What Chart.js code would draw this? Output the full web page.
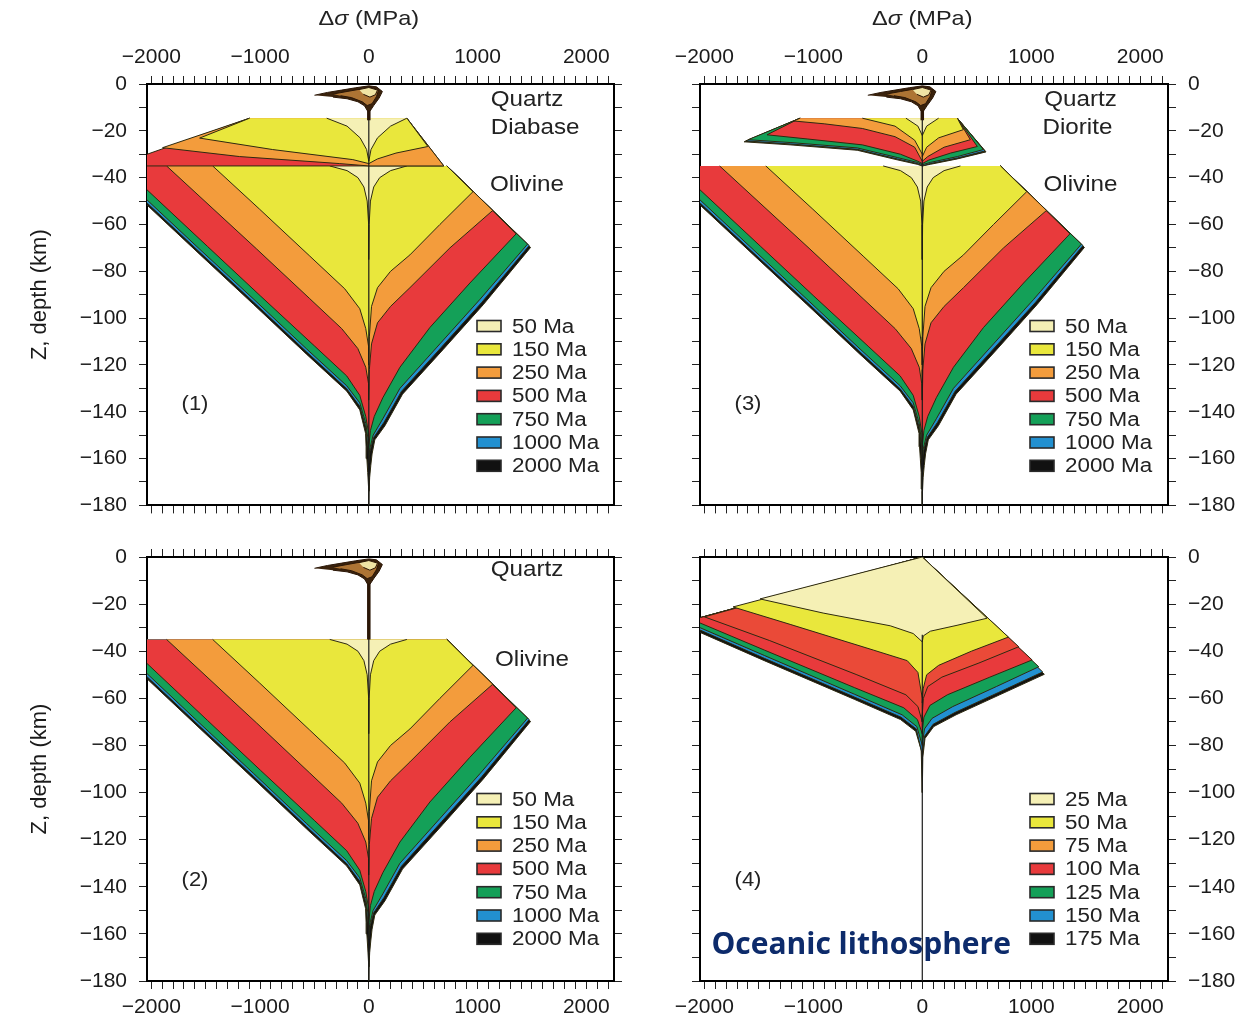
<!DOCTYPE html>
<html>
<head>
<meta charset="utf-8">
<title>Strength envelopes</title>
<script src="https://cdn.jsdelivr.net/npm/chart.js@4.4.1/dist/chart.umd.min.js"></script>
<style>
  html, body { margin: 0; padding: 0; background: #fff; }
  #wrap { position: relative; width: 1249px; height: 1025px; overflow: hidden; }
  canvas { position: absolute; }
</style>
</head>
<body>
<div id="wrap">
  <canvas id="p1" width="640" height="530" style="left:0;top:0"></canvas>
  <canvas id="p3" width="609" height="530" style="left:640px;top:0"></canvas>
  <canvas id="p2" width="640" height="495" style="left:0;top:530px"></canvas>
  <canvas id="p4" width="609" height="495" style="left:640px;top:530px"></canvas>
</div>
<script>
// stress difference in MPa (x), depth in km (y)
const continentalAges = ["50 Ma", "150 Ma", "250 Ma", "500 Ma", "750 Ma", "1000 Ma", "2000 Ma"];
const oceanicAges = ["25 Ma", "50 Ma", "75 Ma", "100 Ma", "125 Ma", "150 Ma", "175 Ma"];
const xLabelled = [-2000, -1000, 0, 1000, 2000];
const yLabelled = [0, -20, -40, -60, -80, -100, -120, -140, -160, -180];

// olivine mantle, same for panels 1-3 (right = extension, left = compression), youngest first
const olivineRight = [
  [[350,-35],[200,-37],[100,-40],[45,-44],[15,-50],[3,-60],[0,-75]],
  [[718,-35],[958,-46],[654,-60],[378,-73],[200,-80],[80,-87],[25,-95],[5,-108],[0,-120]],
  [[718,-35],[1140,-54],[746,-70],[378,-87],[200,-95],[80,-102],[25,-111],[5,-122],[0,-135]],
  [[718,-35],[1355,-64],[930,-85],[562,-104],[286,-121],[129,-134],[50,-142],[15,-148],[0,-155]],
  [[718,-35],[1460,-68.4],[1022,-92],[654,-111],[286,-130],[129,-143],[40,-150],[8,-156],[0,-160]],
  [[718,-35],[1475,-69],[1040,-93.2],[670,-112.3],[300,-131.3],[140,-144.5],[45,-151],[10,-157],[0,-162]],
  [[718,-35],[1488,-69.8],[1052,-94.3],[682,-113.5],[310,-132.5],[148,-146],[55,-152],[30,-158],[18,-163],[8,-168],[2,-174],[0,-180]]
];
const olivineLeft = [
  [[-359,-35],[-200,-37],[-100,-40],[-45,-44],[-15,-50],[-3,-60],[0,-75]],
  [[-1436,-35],[-1004,-53.5],[-543,-73.5],[-221,-87.5],[-83,-96],[-28,-104.5],[-5,-112],[0,-120]],
  [[-1860,-35],[-1031,-70.5],[-543,-91.7],[-249,-104.5],[-101,-113],[-28,-121],[-5,-128],[0,-135]],
  [[-2290,-35],[-2040,-45.2],[-1483,-69.4],[-995,-90.6],[-497,-112],[-203,-124.7],[-83,-133],[-28,-142],[-5,-149],[0,-155]],
  [[-2376,-35],[-2040,-49.5],[-1552,-70.7],[-1059,-91.9],[-571,-113.2],[-203,-128.9],[-83,-136.2],[-28,-145],[-6,-153],[0,-160]],
  [[-2400,-35],[-2040,-50.8],[-1552,-72],[-1059,-93.2],[-571,-114.5],[-203,-130.2],[-83,-137.7],[-28,-146.7],[-8,-155],[0,-162]],
  [[-2420,-35],[-2040,-51.7],[-1552,-72.9],[-1059,-94.2],[-571,-115.5],[-203,-131.2],[-83,-139.2],[-30,-149.2],[-25,-155],[-18,-160],[-10,-166],[-3,-173],[0,-180]]
];

// diabase lower crust (panel 1): 50, 150, 250, 500 Ma
const diabaseRight = [
  [[350,-14.6],[200,-18],[80,-23],[20,-28],[0,-33]],
  [[350,-14.6],[543,-26.7],[250,-29.5],[80,-32],[0,-34]],
  [[350,-14.6],[690,-35],[0,-35]],
  [[350,-14.6],[690,-35],[0,-35]]
];
const diabaseLeft = [
  [[-387,-14.6],[-200,-18],[-80,-23],[-20,-28],[0,-33]],
  [[-1096,-14.6],[-1556,-23.1],[-884,-28],[-147,-32.3],[0,-34]],
  [[-1096,-14.6],[-1897,-27.2],[-1188,-31],[-267,-34],[0,-35]],
  [[-1096,-14.6],[-2345,-35],[0,-35]]
];

// diorite lower crust (panel 3)
const dioriteRight = [
  [[150,-14.6],[40,-18],[0,-22]],
  [[322,-14.6],[377,-19.5],[150,-23],[40,-27],[0,-31]],
  [[322,-14.6],[441,-23.8],[200,-27],[50,-31],[0,-33]],
  [[322,-14.6],[505,-26.7],[260,-29.5],[60,-32.5],[0,-34]],
  [[322,-14.6],[561,-28],[322,-31],[74,-33.5],[0,-34.5]],
  [[322,-14.6],[575,-28.6],[322,-31.6],[74,-34],[0,-35]],
  [[322,-14.6],[585,-29],[322,-32],[74,-34.3],[0,-35]]
];
const dioriteLeft = [
  [[-150,-14.6],[-40,-18],[0,-22]],
  [[-550,-14.6],[-250,-18],[-70,-24],[0,-30]],
  [[-1121,-14.6],[-1180,-15.8],[-900,-17],[-550,-19],[-250,-22.5],[-70,-27],[0,-33]],
  [[-1121,-14.6],[-1425,-21.7],[-1050,-23.5],[-550,-26],[-200,-30],[-40,-33],[0,-34]],
  [[-1121,-14.6],[-1599,-23.8],[-1213,-25],[-597,-27.3],[-230,-31.4],[-46,-33.5],[0,-34.5]],
  [[-1121,-14.6],[-1620,-24.3],[-1213,-25.6],[-597,-27.9],[-230,-32],[-46,-34],[0,-35]],
  [[-1121,-14.6],[-1635,-24.7],[-1213,-26],[-597,-28.3],[-230,-32.4],[-46,-34.3],[0,-35]]
];

// quartz upper crust blob (panels 1-3): old, middle, young outlines
const quartzBlob = [
  [[-500,-4.8],[-380,-3.6],[-250,-2.6],[-120,-1.6],[0,-0.8],[70,-1.2],[125,-3.2],[95,-6],[45,-9.2],[12,-11.5],[-12,-11.5],[-40,-9.3],[-100,-7.6],[-200,-6.3],[-330,-5.6]],
  [[-330,-4.3],[-200,-3.2],[-80,-2.2],[20,-1.4],[90,-2.6],[70,-5.4],[30,-8.4],[-15,-9.2],[-60,-7.6],[-160,-5.8],[-260,-5]],
  [[-90,-2.4],[0,-1.5],[80,-2.6],[60,-4.6],[10,-5.6],[-50,-4.4]]
];
const stemShort = [[0,-11],[0,-15.5]];
const stemLong = [[0,-11],[0,-35]];
const tailContinental = [[0,-15],[0,-180]];

// oceanic lithosphere (panel 4)
const oceanicRight = [
  [[0,0],[594,-26],[319,-29],[74,-31.5],[9,-33.5],[0,-36]],
  [[0,0],[790,-34],[450,-40],[150,-46],[40,-50],[8,-56],[0,-62]],
  [[0,0],[885,-38.1],[520,-45],[180,-51],[50,-55],[10,-60],[0,-67]],
  [[0,0],[1008,-43.7],[620,-51],[230,-58.5],[70,-63],[15,-68],[0,-74]],
  [[0,0],[1069,-46.6],[680,-55],[280,-63.5],[90,-68.5],[20,-73],[0,-80]],
  [[0,0],[1105,-48.8],[700,-57.5],[300,-66],[100,-71],[22,-76],[0,-84]],
  [[0,0],[1120,-49.8],[710,-58.5],[310,-67],[105,-72],[25,-77],[5,-85],[0,-100]]
];
const oceanicLeft = [
  [[0,0],[-1489,-17.8],[-910,-23.8],[-294,-29.2],[-83,-32.5],[0,-36]],
  [[0,0],[-1737,-21.2],[-1213,-28.6],[-450,-39.5],[-138,-44],[-40,-49],[0,-60]],
  [[0,0],[-2000,-25.4],[-1400,-35.5],[-600,-50],[-150,-58.5],[-40,-63.5],[0,-70]],
  [[0,0],[-2200,-27.8],[-2040,-28],[-1450,-39.5],[-620,-55.5],[-170,-64],[-45,-69],[0,-75]],
  [[0,0],[-2200,-27.8],[-2040,-30],[-1450,-41.8],[-620,-58.3],[-185,-67],[-50,-72],[0,-80]],
  [[0,0],[-2200,-27.8],[-2040,-31],[-1450,-43],[-620,-59.5],[-195,-68],[-55,-73],[0,-84]],
  [[0,0],[-2200,-27.8],[-2040,-32],[-1450,-44],[-620,-60.5],[-200,-69],[-60,-74],[-10,-82],[0,-100]]
];
const tailOceanic = [[0,-33],[0,-180]];

// styling
const ageColors = ["#f5f0b5", "#e9e73c", "#f39c3c", "#e83a3c", "#14a058", "#2290d0", "#111111"];
const oceanFill = ["#f5f0b5", "#e9e73c", "#ea4a38", "#e83a3c", "#14a058", "#2290d0", "#111111"];
const quartzColors = ["#3a220c", "#ad7434", "#f0e4a4"];
const edgeColor = "#2e2a10";
const family = '"Liberation Sans", Arial, Helvetica, sans-serif';
const tickFont = { family: family, size: 21 };

// minor frame ticks every 100 MPa
const xFrameTicks = [];
for (let v = -2000; v <= 2200; v += 100) xFrameTicks.push(v);

function toPoints(list) {
  return list.map(p => ({ x: p[0], y: p[1] }));
}

function shape(points, color, edge) {
  return {
    data: toPoints(points), showLine: true, fill: 'shape',
    backgroundColor: color, borderColor: edge || edgeColor, borderWidth: 1,
    pointRadius: 0, pointHitRadius: 0, tension: 0
  };
}

function rule(points, width, color) {
  return {
    data: toPoints(points), showLine: true, fill: false,
    borderColor: color, borderWidth: width, pointRadius: 0, pointHitRadius: 0
  };
}

// oldest envelope first so younger ones sit on top
function envelopes(right, left, colors) {
  const sets = [];
  for (let i = right.length - 1; i >= 0; i--) {
    sets.push(shape(right[i].concat(left[i].slice().reverse()), colors[i]));
  }
  return sets;
}

function blob() {
  return quartzBlob.map((outline, i) => shape(outline, quartzColors[i], "#2a1606"));
}

function signed(v) {
  return v < 0 ? "\u2212" + Math.abs(v) : String(v);
}

function xAxis(position, labels, height) {
  return {
    type: 'linear', axis: 'x', position: position, min: -2040, max: 2255,
    afterBuildTicks: s => { s.ticks = xFrameTicks.map(v => ({ value: v })); },
    afterFit: s => { s.height = height; },
    border: { display: true, color: '#000', width: 2 },
    grid: { drawOnChartArea: false, drawTicks: true, tickLength: 8, tickColor: '#222', tickWidth: 1 },
    ticks: {
      display: labels, autoSkip: false, maxRotation: 0, padding: 6,
      color: '#1a1a1a', font: tickFont,
      callback: v => (xLabelled.includes(v) ? signed(v) : '')
    }
  };
}

function yAxis(position, labels, width, title) {
  return {
    type: 'linear', axis: 'y', position: position, min: -180, max: 0,
    afterFit: s => { s.width = width; },
    border: { display: true, color: '#000', width: 2 },
    grid: { drawOnChartArea: false, drawTicks: true, tickLength: 8, tickColor: '#222', tickWidth: 1 },
    ticks: {
      display: labels, stepSize: 10, autoSkip: false, padding: 12,
      color: '#1a1a1a', font: tickFont,
      callback: v => (yLabelled.includes(v) ? signed(v) : '')
    },
    title: {
      display: title, text: 'Z, depth (km)', color: '#1a1a1a',
      font: { family: family, size: 22 }, padding: { top: 27, bottom: 0 }
    }
  };
}

function drawText(ctx, text, x, y, font, align, color, stretch) {
  ctx.save();
  ctx.font = font;
  ctx.fillStyle = color;
  ctx.textAlign = align;
  ctx.textBaseline = 'middle';
  ctx.translate(x, y);
  ctx.scale(stretch, 1);
  ctx.fillText(text, 0, 0);
  ctx.restore();
}

// per-panel annotations: layer names, panel number, legend, axis title
const panelInfo = {
  p1: { top: true, number: "(1)",
        layers: [["Quartz", 1455, -6.8], ["Diabase", 1529, -18.7], ["Olivine", 1455, -43.3]],
        names: continentalAges, colors: ageColors },
  p2: { top: false, number: "(2)",
        layers: [["Quartz", 1455, -5.5], ["Olivine", 1501, -43.7]],
        names: continentalAges, colors: ageColors },
  p3: { top: true, number: "(3)",
        layers: [["Quartz", 1452, -6.8], ["Diorite", 1424, -18.7], ["Olivine", 1452, -43.3]],
        names: continentalAges, colors: ageColors },
  p4: { top: false, number: "(4)", layers: [], note: "Oceanic lithosphere",
        names: oceanicAges, colors: ageColors }
};

const panelText = {
  id: 'panelText',
  afterDatasetsDraw(chart) {
    const info = panelInfo[chart.canvas.id];
    const ctx = chart.ctx;
    const a = chart.chartArea;
    const xs = chart.scales.x;
    const ys = chart.scales.y;
    const ink = '#222';

    info.layers.forEach(l => {
      drawText(ctx, l[0], xs.getPixelForValue(l[1]), ys.getPixelForValue(l[2]), '22px ' + family, 'center', ink, 1.1);
    });
    drawText(ctx, info.number, a.left + 48, a.bottom - 101, '20px ' + family, 'center', ink, 1.1);

    info.names.forEach((name, i) => {
      const cy = a.top + 242 + i * 23.3;
      ctx.save();
      ctx.fillStyle = info.colors[i];
      ctx.fillRect(a.left + 330, cy - 5.5, 24, 11);
      ctx.strokeStyle = '#2a2a2a';
      ctx.lineWidth = 1.6;
      ctx.strokeRect(a.left + 330, cy - 5.5, 24, 11);
      ctx.restore();
      drawText(ctx, name, a.left + 365, cy + 1, '20px ' + family, 'left', ink, 1.12);
    });

    if (info.note) {
      drawText(ctx, info.note, xs.getPixelForValue(-561), ys.getPixelForValue(-164.8), 'bold 30px "Open Sans", "Noto Sans", sans-serif', 'center', '#0d2b6b', 1);
    }

    if (info.top) {
      // Δσ (MPa) with italic sigma, centred on zero stress
      const f1 = '21px ' + family, f2 = 'italic 21px ' + family;
      ctx.save();
      ctx.font = f1; const w1 = ctx.measureText("\u0394").width; const w3 = ctx.measureText(" (MPa)").width;
      ctx.font = f2; const w2 = ctx.measureText("\u03c3").width;
      const s = 1.12;
      let x = xs.getPixelForValue(0) - s * (w1 + w2 + w3) / 2;
      drawText(ctx, "\u0394", x, 19, f1, 'left', ink, s); x += s * w1;
      drawText(ctx, "\u03c3", x, 19, f2, 'left', ink, s); x += s * w2;
      drawText(ctx, " (MPa)", x, 19, f1, 'left', ink, s);
      ctx.restore();
    }
  }
};

function makePanel(id, datasets, box) {
  datasets.forEach((d, i) => { d.order = datasets.length - i; });
  const info = panelInfo[id];
  return new Chart(document.getElementById(id), {
    type: 'scatter',
    data: { datasets: datasets },
    options: {
      responsive: false,
      animation: false,
      events: [],
      layout: { padding: 0, autoPadding: false },
      plugins: { legend: { display: false }, tooltip: { enabled: false } },
      scales: {
        x: xAxis('top', info.top, box.top),
        x2: xAxis('bottom', !info.top, box.bottom),
        y: yAxis('left', box.leftLabels, box.left, box.leftLabels),
        y2: yAxis('right', !box.leftLabels, box.right, false)
      }
    },
    plugins: [panelText]
  });
}

makePanel('p1', [
  ...envelopes(olivineRight, olivineLeft, ageColors),
  ...envelopes(diabaseRight, diabaseLeft, ageColors),
  rule(tailContinental, 1.2, '#1a1a1a'),
  rule(stemShort, 3.5, '#2a1606'),
  ...blob()
], { top: 84, bottom: 22, left: 147, right: 26, leftLabels: true });

makePanel('p3', [
  ...envelopes(olivineRight, olivineLeft, ageColors),
  ...envelopes(dioriteRight, dioriteLeft, ageColors),
  rule(tailContinental, 1.2, '#1a1a1a'),
  rule(stemShort, 3.5, '#2a1606'),
  ...blob()
], { top: 84, bottom: 22, left: 60, right: 81, leftLabels: false });

makePanel('p2', [
  ...envelopes(olivineRight, olivineLeft, ageColors),
  rule(tailContinental, 1.2, '#1a1a1a'),
  rule(stemLong, 3.5, '#2a1606'),
  ...blob()
], { top: 27, bottom: 44, left: 147, right: 26, leftLabels: true });

makePanel('p4', [
  ...envelopes(oceanicRight, oceanicLeft, oceanFill),
  rule(tailOceanic, 1.2, '#1a1a1a')
], { top: 27, bottom: 44, left: 60, right: 81, leftLabels: false });
</script>
</body>
</html>
